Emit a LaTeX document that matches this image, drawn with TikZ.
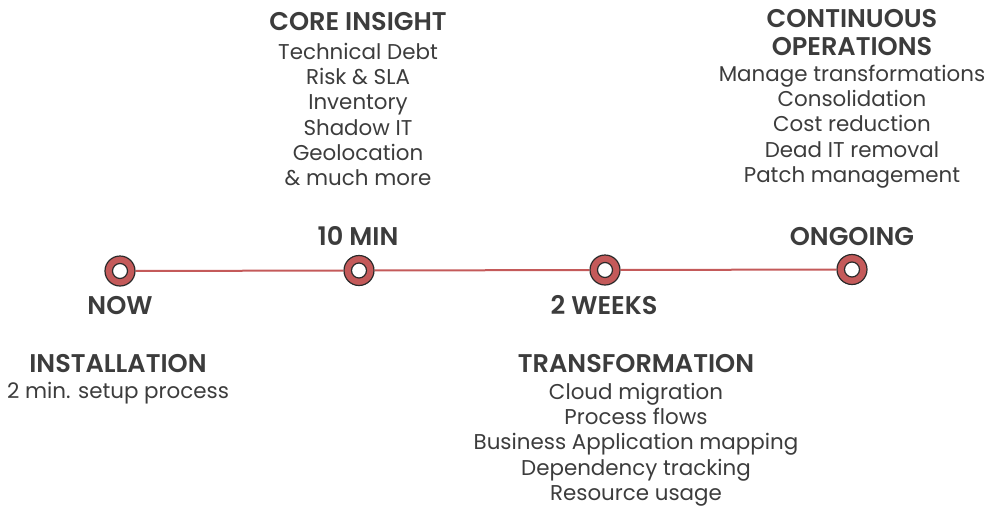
\documentclass[tikz,border=0pt]{standalone}
\usepackage{fontspec}
\setmainfont{Poppins}
\newfontfamily\headfont{Poppins SemiBold}
\definecolor{stopred}{HTML}{C45A5A}
\definecolor{inkgrey}{HTML}{3C3C3C}
\definecolor{rimgrey}{HTML}{2A2A2A}
\tikzset{
  heading/.style={anchor=base,inner sep=0pt,text=inkgrey,font=\headfont\fontsize{25.6}{30}\selectfont},
  bodytext/.style={anchor=base,inner sep=0pt,text=inkgrey,font=\fontsize{21.4}{25}\selectfont},
  stopring/.style={circle,draw=rimgrey,line width=1.2pt,fill=stopred,minimum size=30pt,inner sep=0pt},
  stophole/.style={draw=rimgrey,line width=1.2pt,fill=white},
  track/.style={stopred,line width=2pt}
}
\begin{document}
\begin{tikzpicture}[x=1pt,y=-1pt]
  \useasboundingbox (0,0) rectangle (989,507);
  %stops
  \node[stopring] (now) at (120,271) {};
  \node[stopring] (tenmin) at (359,270.5) {};
  \node[stopring] (weeks) at (605,270) {};
  \node[stopring] (ongoing) at (852,269.5) {};
  %timeline
  \draw[track] (now) -- (tenmin);
  \draw[track] (tenmin) -- (weeks);
  \draw[track] (weeks) -- (ongoing);
  \foreach \s in {now,tenmin,weeks,ongoing}
    \draw[stophole] (\s.center) circle[radius=7.5];
  %time labels
  \node[heading] (lblnow) at (120,314) {NOW};
  \node[heading] (lbltenmin) at (358,245) {10 MIN};
  \node[heading] (lblweeks) at (604,314) {2 WEEKS};
  \node[heading] (lblongoing) at (852,245) {ONGOING};
  %core insight
  \node[heading] (corehead) at (358,30) {CORE INSIGHT};
  \foreach \t [count=\i] in {Technical Debt,Risk \& SLA,Inventory,Shadow IT,Geolocation,\& much more}
    \node[bodytext] (core\i) at (358,59.5+25.2*\i-25.2) {\t};
  %continuous operations
  \node[heading] (opshead1) at (852,27) {CONTINUOUS};
  \node[heading] (opshead2) at (852,55) {OPERATIONS};
  \foreach \t [count=\i] in {Manage transformations,Consolidation,Cost reduction,Dead IT removal,Patch management}
    \node[bodytext] (ops\i) at (852,81.5+25.2*\i-25.2) {\t};
  %installation
  \node[heading] (insthead) at (118,372) {INSTALLATION};
  \node[bodytext] (inst1) at (118,398.5) {2 min. setup process};
  %transformation
  \node[heading] (transhead) at (636,372) {TRANSFORMATION};
  \foreach \t [count=\i] in {Cloud migration,Process flows,Business Application mapping,Dependency tracking,Resource usage}
    \node[bodytext] (trans\i) at (636,399.5+25.2*\i-25.2) {\t};
\end{tikzpicture}
\end{document}
